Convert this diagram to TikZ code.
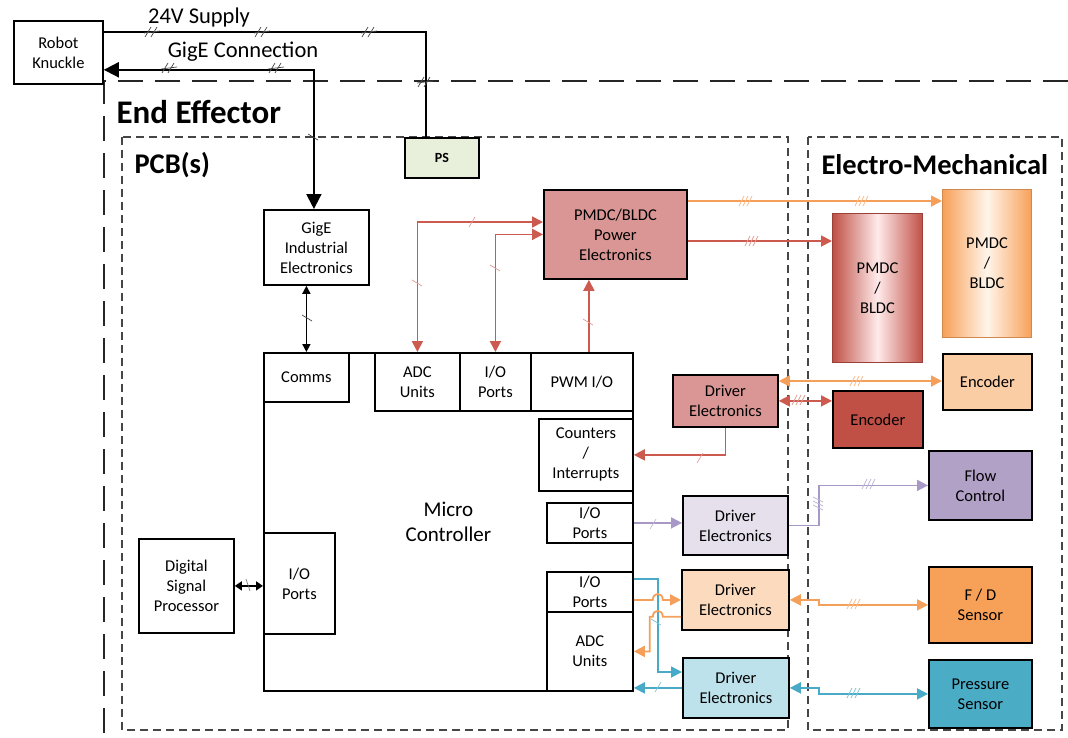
\documentclass[tikz,border=0pt]{standalone}
\usepackage{fontspec}
\setmainfont{Carlito}
\usetikzlibrary{arrows.meta,calc}

\definecolor{redln}{RGB}{205,90,78}
\definecolor{orgln}{RGB}{245,160,90}
\definecolor{purln}{RGB}{168,152,198}
\definecolor{bluln}{RGB}{72,170,198}
\definecolor{salmon}{RGB}{217,150,148}
\definecolor{encred}{RGB}{192,80,70}
\definecolor{encorg}{RGB}{250,205,165}
\definecolor{fdorg}{RGB}{247,160,88}
\definecolor{flowpur}{RGB}{178,161,199}
\definecolor{drvpur}{RGB}{229,224,236}
\definecolor{drvorg}{RGB}{251,218,190}
\definecolor{drvblu}{RGB}{190,226,236}
\definecolor{presblu}{RGB}{75,172,198}
\definecolor{psgrn}{RGB}{232,240,220}
\definecolor{regiongray}{RGB}{70,70,70}

% tick marks on the signal lines
\newcommand{\tkh}[3]{\draw[#1,line width=0.7pt,shift={(#2,#3)}] (-3,5) -- (3,-5);}
\newcommand{\tkv}[3]{\draw[#1,line width=0.7pt,shift={(#2,#3)}] (-5,-3) -- (5,3);}
\newcommand{\tkd}[3]{\draw[#1,line width=0.7pt,shift={(#2,#3)}] (-8,5) -- (-2,-5) (-2,5) -- (4,-5) (-9,1) -- (7,-1);}
\newcommand{\tkt}[3]{\draw[#1,line width=0.8pt,shift={(#2,#3)}] (-8,5) -- (-3,-5) (-4,5) -- (1,-5) (0,5) -- (5,-5);}
\newcommand{\tktv}[3]{\draw[#1,line width=0.8pt,shift={(#2,#3)}] (-5,-8) -- (5,-3) (-5,-4) -- (5,1) (-5,0) -- (5,5);}

\begin{document}
\begin{tikzpicture}[x=1pt,y=-1pt,
  every node/.style={font=\fontsize{16.5}{20}\selectfont},
  blk/.style={draw,line width=1.8pt,align=center,inner sep=0pt,anchor=north west},
  ctip/.style={-{Triangle[length=11pt,width=11pt]}},
  cboth/.style={{Triangle[length=11pt,width=11pt]}-{Triangle[length=11pt,width=11pt]}},
  cline/.style={line width=1.8pt},
  region/.style={draw=regiongray,line width=1.3pt,dash pattern=on 8pt off 5pt},
  title/.style={font=\fontsize{28.5}{32}\selectfont\bfseries,anchor=west}]
\useasboundingbox (0,0) rectangle (1068,737);

% enclosing regions
\draw[line width=2.2pt,dash pattern=on 25pt off 12pt,draw=black!85] (1068,81) -- (104,81) -- (104,737);
\draw[region] (122,137) rectangle (788,730);
\draw[region] (808,137) rectangle (1062,730);
\node[title,font=\fontsize{33}{36}\selectfont\bfseries] (ee) at (113,112) {End Effector};
\node[title] (pcb) at (131,165) {PCB(s)};
\node[title] (em) at (818,165) {Electro-Mechanical};

% blocks
\node[blk,minimum width=89pt,minimum height=63pt] (rk) at (13,20) {Robot\\Knuckle};
\node[blk,fill=psgrn,minimum width=74pt,minimum height=40pt,font=\fontsize{14}{16}\selectfont\bfseries] (ps) at (404,137) {PS};
\node[blk,minimum width=105pt,minimum height=75pt] (gige) at (263,209) {GigE\\Industrial\\Electronics};
\node[blk,minimum width=369pt,minimum height=338pt,font=\fontsize{21}{25}\selectfont] (mc) at (263,352) {Micro\\Controller};
\node[blk,minimum width=85pt,minimum height=49pt] (comms) at (263,352) {Comms};
\node[blk,minimum width=85pt,minimum height=58pt] (adc1) at (374,352) {ADC\\Units};
\node[blk,minimum width=71pt,minimum height=58pt] (io1) at (459,352) {I/O\\Ports};
\node[blk,minimum width=102pt,minimum height=58pt] (pwm) at (530,352) {PWM I/O};
\node[blk,minimum width=94pt,minimum height=72pt] (cnt) at (538,418) {Counters\\/\\Interrupts};
\node[blk,minimum width=86pt,minimum height=40pt] (io2) at (546,502) {I/O\\Ports};
\node[blk,minimum width=86pt,minimum height=40pt] (io3) at (546,571) {I/O\\Ports};
\node[blk,minimum width=86pt,minimum height=79pt] (adc2) at (546,611) {ADC\\Units};
\node[blk,minimum width=71pt,minimum height=101pt] (io4) at (263,532) {I/O\\Ports};
\node[blk,minimum width=95pt,minimum height=94pt] (dsp) at (138,538) {Digital\\Signal\\Processor};
\node[blk,fill=salmon,minimum width=143pt,minimum height=89pt] (pe) at (543,189) {PMDC/BLDC\\Power\\Electronics};
\node[blk,draw=encred!80!black,line width=1pt,left color=encred,right color=encred,middle color=red!8,minimum width=90pt,minimum height=149pt] (m1) at (832,213) {PMDC\\/\\BLDC};
\node[blk,draw=orgln!85!black,line width=1pt,left color=fdorg,right color=fdorg,middle color=orange!8,minimum width=89pt,minimum height=148pt] (m2) at (942,189) {PMDC\\/\\BLDC};
\node[blk,fill=encorg,minimum width=89pt,minimum height=56pt] (enc2) at (942,353) {Encoder};
\node[blk,fill=encred,minimum width=90pt,minimum height=57pt] (enc1) at (832,390) {Encoder};
\node[blk,fill=salmon,minimum width=105pt,minimum height=52pt] (drv1) at (672,374) {Driver\\Electronics};
\node[blk,fill=drvpur,minimum width=105pt,minimum height=59pt] (drv2) at (682,495) {Driver\\Electronics};
\node[blk,fill=flowpur,minimum width=103pt,minimum height=69pt] (flow) at (928,450) {Flow\\Control};
\node[blk,fill=drvorg,minimum width=107pt,minimum height=60pt] (drv3) at (681,569) {Driver\\Electronics};
\node[blk,fill=fdorg,minimum width=103pt,minimum height=76pt] (fd) at (928,566) {F / D\\Sensor};
\node[blk,fill=drvblu,minimum width=106pt,minimum height=60pt] (drv4) at (682,657) {Driver\\Electronics};
\node[blk,fill=presblu,minimum width=103pt,minimum height=68pt] (pres) at (928,659) {Pressure\\Sensor};

% supply and network links
\coordinate (vsrc) at ($(rk.north east)+(0,12)$);
\coordinate (psin) at ($(ps.north west)+(22,0)$);
\draw[line width=2pt] (vsrc) -| (psin);
\node[font=\fontsize{22.5}{24}\selectfont] (vlab) at (199,17) {24V Supply};
\coordinate (gin) at ($(rk.south east)+(0,-15)$);
\coordinate (gtop) at ($(gige.north)+(-2.5,0)$);
\draw[line width=2pt,{Triangle[length=15pt,width=15pt]}-{Triangle[length=15pt,width=15pt]}] (gin) -| (gtop);
\node[font=\fontsize{22.5}{24}\selectfont] (glab) at (243,52) {GigE Connection};
\draw[line width=1.6pt,{Triangle[length=8pt,width=8pt]}-{Triangle[length=8pt,width=8pt]}] (gige.south -| comms.north) -- (comms.north);
\draw[line width=1.4pt,{Triangle[length=7pt,width=9pt]}-{Triangle[length=7pt,width=9pt]}] (dsp.east) -- (dsp.east -| io4.west);

% motor drive links
\draw[redln,cline,cboth] (adc1.north) |- ($(pe.north west)+(0,33)$);
\draw[redln,cline,cboth] (io1.north) |- (pe.west);
\coordinate (pwmo) at ($(pwm.north)+(7,0)$);
\draw[redln,cline,ctip] (pwmo) -- (pwmo |- pe.south);
\coordinate (peo) at ($(pe.north east)+(0,12)$);
\draw[orgln,cline,ctip] (peo) -- (peo -| m2.west);
\coordinate (per) at ($(pe.north east)+(0,52)$);
\draw[redln,cline,ctip] (per) -- (per -| m1.west);

% encoder links
\coordinate (d1o) at ($(drv1.north east)+(0,7)$);
\draw[orgln,cline,cboth] (d1o) -- (d1o -| enc2.west);
\draw[redln,cline,cboth] (drv1.east) -- (drv1.east -| enc1.west);
\draw[redln,cline,ctip] (drv1.south) |- (cnt.east);

% flow control link
\draw[purln,cline,ctip] (io2.east) -- (io2.east -| drv2.west);
\coordinate (fj) at ($(drv2.east)+(30,0)$);
\draw[purln,cline,ctip] (drv2.east) -- (fj) |- (flow.west);

% sensor links
\coordinate (bo) at ($(io3.north east)+(0,8)$);
\coordinate (bx) at ($(bo)+(24,0)$);
\draw[bluln,cline,ctip] (bo) -- (bx) |- ($(drv4.north west)+(0,15)$);
\draw[bluln,cline,ctip] (drv4.west) -- (drv4.west -| adc2.east);
\coordinate (oo) at (drv3.west -| io3.east);
\coordinate (oh) at (bx |- oo);
\draw[orgln,cline,ctip] (oo) -- ($(oh)+(-5,0)$) .. controls ($(oh)+(-5,-8)$) and ($(oh)+(5,-8)$) .. ($(oh)+(5,0)$) -- (drv3.west);
\coordinate (or) at ($(drv3.south west)+(0,-14)$);
\coordinate (orh) at (bx |- or);
\coordinate (ox) at ($(orh)+(-8,0)$);
\draw[orgln,cline,ctip] (or) -- ($(orh)+(5,0)$) .. controls ($(orh)+(5,-8)$) and ($(orh)+(-5,-8)$) .. ($(orh)+(-5,0)$) -- (ox) |- (adc2.east);
\coordinate (fdj) at ($(drv3.east)+(29,0)$);
\coordinate (fdk) at ($(fdj)+(0,5)$);
\draw[orgln,cline,cboth] (drv3.east) -- (fdj) -- (fdk) -- (fdk -| fd.west);
\coordinate (prj) at ($(drv4.east)+(29,0)$);
\coordinate (prk) at ($(prj)+(0,6)$);
\draw[bluln,cline,cboth] (drv4.east) -- (prj) -- (prk) -- (prk -| pres.west);

% tick marks
\tkd{black!70}{153}{32} \tkd{black!70}{263}{32} \tkd{black!70}{370}{32}
\tkd{black!70}{426}{82}
\tkd{black!70}{170}{68} \tkd{black!70}{277}{68}
\tkv{black!70}{313}{137}
\tkv{black!70}{307}{318}
\draw[black!60,line width=0.6pt] (246,579) -- (250,591);
\tkv{redln!60}{417}{283} \tkh{redln!60}{472}{222}
\tkv{redln!60}{495}{268} \tkv{redln!60}{588}{322}
\tkh{redln!60}{700}{458}
\tkt{redln!60}{753}{241} \tkt{redln!60}{800}{400}
\tkt{orgln!70}{747}{201} \tkt{orgln!70}{863}{201}
\tkt{orgln!70}{858}{381} \tkt{orgln!70}{855}{604}
\tkh{purln!70}{653}{524}
\tktv{purln!70}{818}{505} \tkt{purln!70}{870}{484}
\tkh{bluln!70}{658}{687} \tkv{bluln!70}{656}{622}
\tkt{bluln!70}{855}{693}
\end{tikzpicture}
\end{document}
